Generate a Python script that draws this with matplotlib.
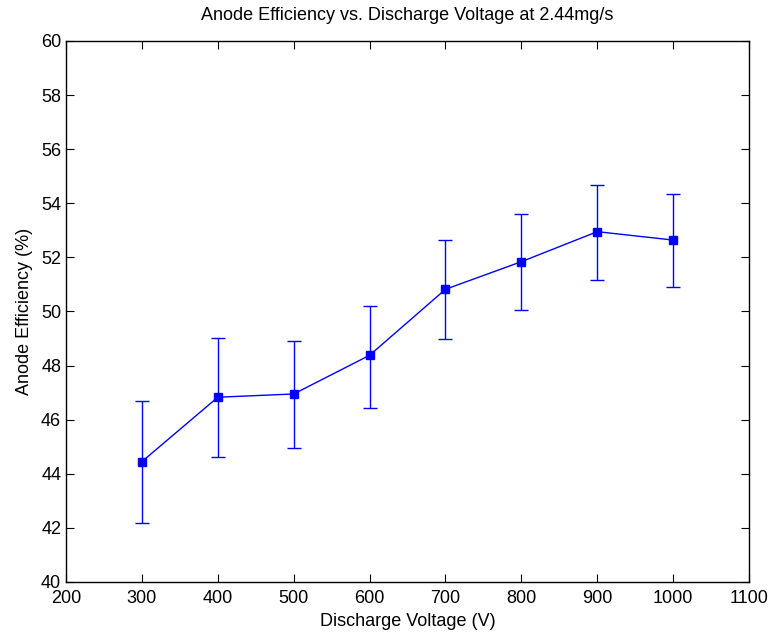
import matplotlib
matplotlib.use("Agg")
import matplotlib.pyplot as plt
import numpy as np

voltage = [300, 400, 500, 600, 700, 800, 900, 1000]
efficiency = [44.45, 46.83, 46.95, 48.38, 50.82, 51.84, 52.95, 52.64]
err_upper = [46.70, 49.02, 48.91, 50.21, 52.64, 53.62, 54.68, 54.34]
err_lower = [42.17, 44.62, 44.97, 46.44, 48.99, 50.07, 51.16, 50.91]

xticks = [200, 300, 400, 500, 600, 700, 800, 900, 1000, 1100]
yticks = [40, 42, 44, 46, 48, 50, 52, 54, 56, 58, 60]

plt.rcParams['font.family'] = ['Liberation Sans', 'DejaVu Sans']

fig = plt.figure(figsize=(7.77, 6.35), dpi=100)
ax = fig.add_axes([0.085, 0.0835, 0.879, 0.852])

eff = np.array(efficiency)
yerr = [eff - np.array(err_lower), np.array(err_upper) - eff]
ax.errorbar(voltage, efficiency, yerr=yerr, color='#0000ff', marker='s',
            markersize=6, linewidth=1, elinewidth=1, capsize=5, capthick=1)

ax.set_xlim(200, 1100)
ax.set_ylim(40, 60)
ax.set_xticks(xticks)
ax.set_yticks(yticks)
ax.tick_params(direction='in', top=True, right=True, labelsize=13, length=6)
ax.tick_params(axis='x', pad=6)
for s in ax.spines.values():
    s.set_linewidth(1)

ax.set_xlabel('Discharge Voltage (V)', fontsize=13, labelpad=4)
ax.set_ylabel('Anode Efficiency (%)', fontsize=13, labelpad=6)
ax.set_title('Anode Efficiency vs. Discharge Voltage at 2.44mg/s', fontsize=13, pad=15)

fig.savefig('out.png', dpi=100)
